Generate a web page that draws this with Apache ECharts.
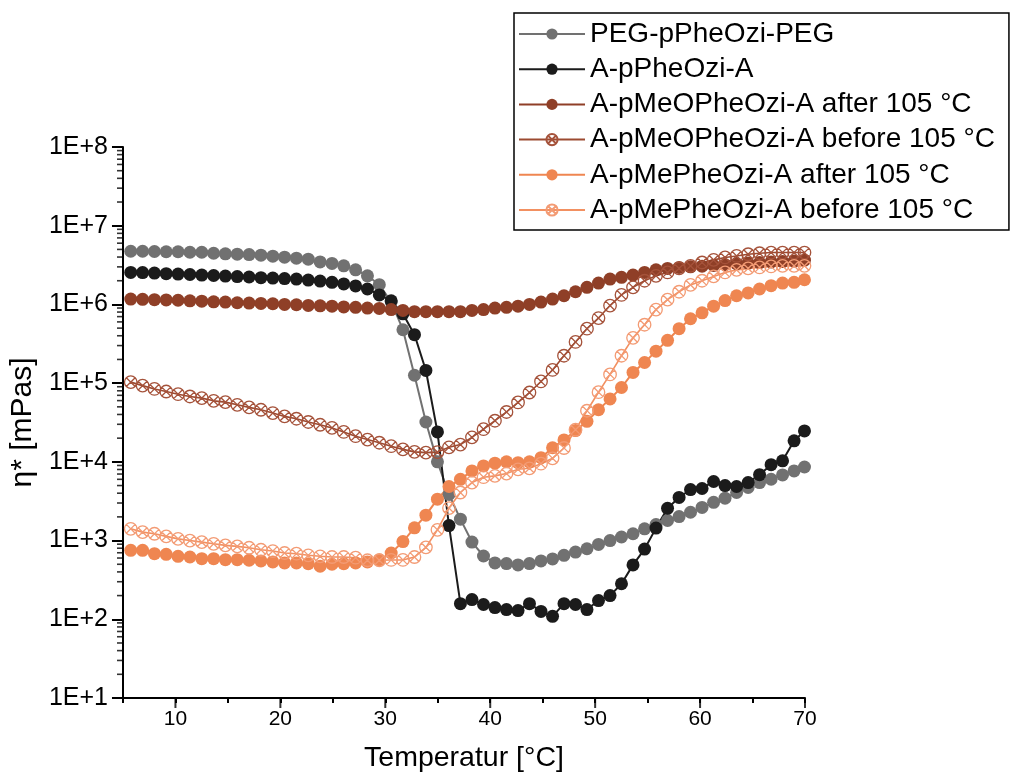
<!DOCTYPE html>
<html>
<head>
<meta charset="utf-8">
<script src="https://cdn.jsdelivr.net/npm/echarts@6/dist/echarts.min.js"></script>
<style>
html,body{margin:0;padding:0;background:#fff;}
#chart{width:1010px;height:778px;}
</style>
</head>
<body>
<div id="chart"></div>
<script>
// Temperature (°C) of each measurement point
const temps = [5.74, 6.87, 8.00, 9.12, 10.25, 11.38, 12.51, 13.64, 14.76, 15.89, 17.02, 18.15, 19.28, 20.40, 21.53, 22.66, 23.79, 24.92, 26.04, 27.17, 28.30, 29.43, 30.56, 31.68, 32.78, 33.87, 34.97, 36.07, 37.16, 38.26, 39.36, 40.45, 41.55, 42.65, 43.74, 44.84, 45.94, 47.03, 48.13, 49.22, 50.32, 51.42, 52.51, 53.61, 54.71, 55.80, 56.90, 58.00, 59.09, 60.19, 61.29, 62.38, 63.48, 64.58, 65.67, 66.77, 67.86, 68.96, 69.95];

const pegPPheOziPeg = [4.74e6, 4.74e6, 4.7e6, 4.67e6, 4.67e6, 4.6e6, 4.6e6, 4.47e6, 4.4e6, 4.35e6, 4.3e6, 4.22e6, 4.1e6, 3.98e6, 3.87e6, 3.76e6, 3.47e6, 3.32e6, 3.09e6, 2.75e6, 2.31e6, 1.78e6, 1.08e6, 4.77e5, 1.26e5, 3.21e4, 1.0e4, 3850, 1870, 957, 637, 520, 510, 490, 510, 551, 584, 650, 715, 787, 894, 1000, 1110, 1220, 1410, 1600, 1800, 2020, 2290, 2640, 3060, 3460, 4080, 4720, 5460, 6010, 6830, 7670, 8610];

const aPPheOziA = [2.55e6, 2.54e6, 2.5e6, 2.46e6, 2.43e6, 2.4e6, 2.36e6, 2.33e6, 2.29e6, 2.26e6, 2.23e6, 2.19e6, 2.16e6, 2.13e6, 2.1e6, 2.04e6, 1.98e6, 1.91e6, 1.82e6, 1.72e6, 1.57e6, 1.32e6, 1.11e6, 7.6e5, 4.13e5, 1.45e5, 2.4e4, 1550, 158, 178, 154, 141, 133, 129, 158, 126, 109, 158, 154, 133, 173, 200, 283, 491, 780, 1440, 2570, 3530, 4450, 4590, 5630, 5000, 4860, 5460, 6880, 9200, 10300, 18500, 24700];

const meoAfter = [1.17e6, 1.16e6, 1.15e6, 1.14e6, 1.13e6, 1.11e6, 1.1e6, 1.08e6, 1.07e6, 1.05e6, 1.04e6, 1.03e6, 1.02e6, 1.0e6, 9.9e5, 9.7e5, 9.6e5, 9.5e5, 9.3e5, 9.2e5, 9.0e5, 8.9e5, 8.6e5, 8.4e5, 8.1e5, 8.1e5, 8.1e5, 8.1e5, 8.1e5, 8.4e5, 8.6e5, 9.0e5, 9.2e5, 9.5e5, 1.0e6, 1.07e6, 1.17e6, 1.29e6, 1.45e6, 1.65e6, 1.87e6, 2.1e6, 2.21e6, 2.36e6, 2.55e6, 2.75e6, 2.87e6, 2.95e6, 3.0e6, 3.06e6, 3.13e6, 3.2e6, 3.3e6, 3.35e6, 3.4e6, 3.47e6, 3.5e6, 3.55e6, 3.65e6];

const meoBefore = [1.03e5, 9.3e4, 8.44e4, 7.83e4, 7.24e4, 6.77e4, 6.45e4, 5.96e4, 5.74e4, 5.31e4, 4.92e4, 4.59e4, 4.17e4, 3.78e4, 3.53e4, 3.21e4, 2.96e4, 2.7e4, 2.4e4, 2.12e4, 1.92e4, 1.75e4, 1.58e4, 1.44e4, 1.34e4, 1.31e4, 1.33e4, 1.53e4, 1.66e4, 2.05e4, 2.6e4, 3.33e4, 4.3e4, 5.69e4, 7.6e4, 1.05e5, 1.47e5, 2.23e5, 3.34e5, 4.92e5, 6.71e5, 9.68e5, 1.32e6, 1.65e6, 2.0e6, 2.31e6, 2.55e6, 2.87e6, 3.09e6, 3.41e6, 3.68e6, 3.95e6, 4.13e6, 4.34e6, 4.47e6, 4.56e6, 4.56e6, 4.56e6, 4.56e6];

const meAfter = [752, 752, 681, 669, 631, 618, 589, 589, 572, 572, 562, 551, 535, 520, 520, 509, 472, 500, 509, 520, 535, 572, 695, 970, 1450, 2100, 3360, 4860, 6000, 7670, 8870, 9620, 10000, 9760, 10000, 11300, 15100, 19000, 25000, 32700, 45900, 63100, 88000, 137000, 183000, 255000, 350000, 492000, 658000, 783000, 951000, 1.12e6, 1.29e6, 1.4e6, 1.57e6, 1.73e6, 1.87e6, 1.91e6, 2.06e6];

const meBefore = [1410, 1280, 1220, 1130, 1050, 1000, 955, 910, 869, 843, 810, 764, 736, 695, 681, 650, 631, 618, 618, 606, 562, 562, 567, 567, 618, 820, 1370, 2590, 4080, 5460, 6380, 6640, 7100, 8040, 8280, 9480, 11100, 15000, 25600, 44600, 76700, 129000, 223000, 376000, 552000, 861000, 1.15e6, 1.45e6, 1.77e6, 2.0e6, 2.27e6, 2.55e6, 2.75e6, 2.87e6, 2.95e6, 3.04e6, 3.09e6, 3.09e6, 3.09e6];

const seriesNames = ['PEG-pPheOzi-PEG', 'A-pPheOzi-A', 'A-pMeOPheOzi-A after 105 °C', 'A-pMeOPheOzi-A before 105 °C', 'A-pMePheOzi-A after 105 °C', 'A-pMePheOzi-A before 105 °C'];

const xMin = 5, xMax = 70, xStep = 5;
const yMin = 10, yMax = 1e8;

const FONT = "'Liberation Sans', Arial, sans-serif";
const CROSS = 'path://M0,-10A10,10,0,1,1,0,10A10,10,0,1,1,0,-10ZM-7.07,-7.07L7.07,7.07M7.07,-7.07L-7.07,7.07';

function pairs(arr){ return temps.map((t,i)=>[t, arr[i]]); }

function filledSeries(name, arr, color){
  return {
    name, type:'line', data: pairs(arr),
    symbol:'circle', symbolSize:13, showSymbol:true,
    lineStyle:{color, width:2},
    itemStyle:{color, borderWidth:0},
    emphasis:{disabled:true}, animation:false
  };
}
function crossSeries(name, arr, lineColor, markColor){
  return {
    name, type:'line', data: pairs(arr),
    symbol:CROSS, symbolSize:12.5, showSymbol:true,
    lineStyle:{color:lineColor, width:1.6},
    itemStyle:{color:'rgba(255,255,255,0)', borderColor:markColor, borderWidth:1.3},
    emphasis:{disabled:true}, animation:false
  };
}

// log-distributed minor ticks on the y axis and major ticks on the x axis
const yMinorTicks = [];
for (let d = yMin; d < yMax; d *= 10) for (let m = 2; m <= 9; m++) yMinorTicks.push([xMin, m*d]);
const xMajorTicks = [];
for (let x = 10; x <= xMax; x += 10) xMajorTicks.push([x, yMin]);

const chart = echarts.init(document.getElementById('chart'), null, {renderer:'canvas'});
chart.setOption({
  animation:false,
  backgroundColor:'#fff',
  grid:{left:119, right:205, top:147, bottom:76, containLabel:false},
  legend:{
    data: seriesNames,
    orient:'vertical', left:514, top:13,
    padding:[7,14,6,4],
    itemWidth:66, itemHeight:14, itemGap:7.2,
    borderColor:'#000', borderWidth:1.5, borderRadius:0,
    backgroundColor:'#fff',
    textStyle:{fontFamily:FONT, fontSize:28, color:'#000', lineHeight:28},
    selectedMode:false
  },
  xAxis:{
    type:'value', min:xMin, max:xMax, interval:xStep,
    name:'Temperatur [°C]', nameLocation:'middle', nameGap:46,
    nameTextStyle:{fontFamily:FONT, fontSize:28.5, color:'#000'},
    axisLine:{show:true, onZero:false, lineStyle:{color:'#000', width:2}},
    axisTick:{show:true, length:5, lineStyle:{color:'#000', width:2}},
    axisLabel:{fontFamily:FONT, fontSize:21, color:'#000', margin:11,
      formatter:v => (v % 10 === 0 ? String(v) : '')},
    splitLine:{show:false}
  },
  yAxis:{
    type:'log', logBase:10, min:yMin, max:yMax,
    name:'η* [mPas]', nameLocation:'middle', nameGap:75, nameRotate:90,
    nameTextStyle:{fontFamily:FONT, fontSize:30, color:'#000'},
    axisLine:{show:true, onZero:false, lineStyle:{color:'#000', width:2}},
    axisTick:{show:true, length:11, lineStyle:{color:'#000', width:2}},
    axisLabel:{fontFamily:FONT, fontSize:25, color:'#000', margin:15,
      formatter:v => '1E+' + Math.round(Math.log10(v))},
    splitLine:{show:false}
  },
  series:[
    filledSeries(seriesNames[0], pegPPheOziPeg, '#717171'),
    filledSeries(seriesNames[1], aPPheOziA, '#1b1b1b'),
    filledSeries(seriesNames[2], meoAfter, '#8f3f27'),
    crossSeries(seriesNames[3], meoBefore, '#9c4a31', '#a5523a'),
    filledSeries(seriesNames[4], meAfter, '#ef8651'),
    crossSeries(seriesNames[5], meBefore, '#f29061', '#f39b74'),
    {
      name:'yMinorTicks', type:'scatter', data:yMinorTicks, clip:false, silent:true,
      symbol:'rect', symbolSize:[6,1.6], symbolOffset:[-3,0],
      itemStyle:{color:'#000'}, emphasis:{disabled:true}, z:5
    },
    {
      name:'xMajorTicks', type:'scatter', data:xMajorTicks, clip:false, silent:true,
      symbol:'rect', symbolSize:[2,10], symbolOffset:[0,5],
      itemStyle:{color:'#000'}, emphasis:{disabled:true}, z:5
    }
  ]
});
</script>
</body>
</html>
